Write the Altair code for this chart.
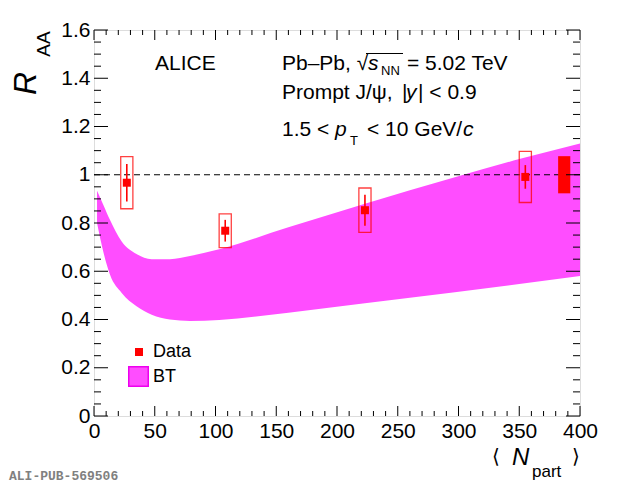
import altair as alt
import pandas as pd

# ---------------- data ----------------
npart = [27, 108, 223, 355]
raa = [0.967, 0.768, 0.853, 0.991]
stat_err = [0.078, 0.045, 0.064, 0.049]
syst_err = [0.108, 0.070, 0.092, 0.106]

glob_n = [382, 392]
glob_unc = 0.077

band_n = [2.5, 7.7, 13.2, 22.8, 35, 47.5, 62.5, 79, 103, 160, 223, 260, 297, 350, 400]
band_hi = [0.934, 0.875, 0.812, 0.723, 0.671, 0.650, 0.650, 0.663, 0.691, 0.782, 0.880, 0.936, 0.990, 1.065, 1.130]
band_lo = [0.800, 0.680, 0.585, 0.510, 0.455, 0.420, 0.400, 0.394, 0.398, 0.428, 0.467, 0.490, 0.513, 0.547, 0.580]

x_major = [0, 50, 100, 150, 200, 250, 300, 350, 400]
x_minor = [v for v in range(0, 401, 10) if v % 50 != 0]
y_major = [0, 0.2, 0.4, 0.6, 0.8, 1.0, 1.2, 1.4, 1.6]
y_minor = [round(0.05 * i, 2) for i in range(33) if i % 4 != 0]

W, H = 486, 386
FONT = "Liberation Sans"
RED = "#ff0000"
MAG = "#ff4dff"
BOX_HALF = 5  # half width of systematic boxes (Npart units)

xs = alt.Scale(domain=[0, 400], nice=False, zero=False)
ys = alt.Scale(domain=[0, 1.6], nice=False, zero=False)

pts = pd.DataFrame({"n": npart, "r": raa, "s": stat_err, "u": syst_err})
pts["slo"] = pts.r - pts.s
pts["shi"] = pts.r + pts.s
pts["ulo"] = pts.r - pts.u
pts["uhi"] = pts.r + pts.u
pts["bx1"] = pts.n - BOX_HALF
pts["bx2"] = pts.n + BOX_HALF
pts["series"] = "Data"

band = pd.DataFrame({"n": band_n, "lo": band_lo, "hi": band_hi, "model": "BT"})

x_axis = alt.Axis(values=x_major, format="d", labelFont=FONT, labelFontSize=21,
                  labelColor="black", labelPadding=4, domain=False, ticks=False,
                  grid=False, title=None, labelFlush=False, labelOverlap=False)
y_axis = alt.Axis(values=y_major, format="~g", labelFont=FONT, labelFontSize=21,
                  labelColor="black", labelPadding=4, domain=False, ticks=False,
                  grid=False, title=None, labelFlush=False, labelOverlap=False)

area = alt.Chart(band).mark_area(interpolate="monotone", opacity=1).encode(
    x=alt.X("n:Q", scale=xs, axis=x_axis),
    y=alt.Y("lo:Q", scale=ys, axis=y_axis),
    y2="hi:Q",
    fill=alt.Fill("model:N", scale=alt.Scale(domain=["BT"], range=[MAG]),
                  legend=alt.Legend(orient="none", legendX=34, legendY=336, title=None,
                                    labelFont=FONT, labelFontSize=18, labelColor="black",
                                    symbolType="square", symbolSize=380,
                                    symbolStrokeColor="#ee00ee", symbolStrokeWidth=1.5,
                                    symbolOpacity=1, labelOffset=4, padding=0)),
)

unity = alt.Chart(pd.DataFrame({"x": [0], "x2": [400], "y": [1.0]})).mark_rule(
    color="black", strokeDash=[6, 4], strokeWidth=1
).encode(x=alt.X("x:Q", scale=xs), x2="x2:Q", y=alt.Y("y:Q", scale=ys))

syst = alt.Chart(pts).mark_rect(fill=None, stroke=RED, strokeWidth=1.3, strokeOpacity=0.75).encode(
    x=alt.X("bx1:Q", scale=xs), x2="bx2:Q", y=alt.Y("ulo:Q", scale=ys), y2="uhi:Q")

stat = alt.Chart(pts).mark_rule(color=RED, strokeWidth=1.6).encode(
    x=alt.X("n:Q", scale=xs), y=alt.Y("slo:Q", scale=ys), y2="shi:Q")

marker = alt.Chart(pts).mark_point(filled=True, color=RED, size=64, opacity=1).encode(
    x=alt.X("n:Q", scale=xs), y=alt.Y("r:Q", scale=ys),
    shape=alt.Shape("series:N", scale=alt.Scale(domain=["Data"], range=["square"]),
                    legend=alt.Legend(orient="none", legendX=36, legendY=313, title=None,
                                      labelFont=FONT, labelFontSize=18, labelColor="black",
                                      symbolSize=64, symbolFillColor=RED, symbolStrokeWidth=0,
                                      symbolOpacity=1, labelOffset=5, padding=0)),
)

glob = alt.Chart(pd.DataFrame({"x1": [glob_n[0]], "x2": [glob_n[1]],
                               "y1": [1 - glob_unc], "y2": [1 + glob_unc]})).mark_rect(
    color=RED, opacity=1).encode(x=alt.X("x1:Q", scale=xs), x2="x2:Q",
                                  y=alt.Y("y1:Q", scale=ys), y2="y2:Q")

# inward ticks on all four sides
def yticks(vals, length):
    d = pd.DataFrame({"v": vals})
    left = alt.Chart(d).mark_rule(color="black", strokeWidth=1).encode(
        y=alt.Y("v:Q", scale=ys), x=alt.value(0), x2=alt.value(length))
    right = alt.Chart(d).mark_rule(color="black", strokeWidth=1).encode(
        y=alt.Y("v:Q", scale=ys), x=alt.value(W), x2=alt.value(W - length))
    return [left, right]

def xticks(vals, length):
    d = pd.DataFrame({"v": vals})
    bottom = alt.Chart(d).mark_rule(color="black", strokeWidth=1).encode(
        x=alt.X("v:Q", scale=xs), y=alt.value(H), y2=alt.value(H - length))
    top = alt.Chart(d).mark_rule(color="black", strokeWidth=1).encode(
        x=alt.X("v:Q", scale=xs), y=alt.value(0), y2=alt.value(length))
    return [bottom, top]

ticks = yticks(y_major, 14) + yticks(y_minor, 7) + xticks(x_major, 10) + xticks(x_minor, 5)

one = pd.DataFrame({"a": [0]})

def txt(s, x, y, size=21, style="normal", angle=0, font=FONT, color="black", weight="normal"):
    return alt.Chart(one).mark_text(
        text=s, fontSize=size, fontStyle=style, font=font, color=color, angle=angle,
        align="left", baseline="alphabetic", fontWeight=weight
    ).encode(x=alt.value(x), y=alt.value(y))

texts = [
    txt("ALICE", 61, 40),
    txt("Pb\u2013Pb, \u221a", 188, 40),
    txt("s", 274, 40, style="italic"),
    txt("NN", 287, 45, size=13),
    txt("= 5.02 TeV", 313, 40),
    txt("Prompt J/\u03c8,", 188, 68.7),
    txt("|", 308, 68.7),
    txt("y", 312, 68.7, style="italic"),
    txt("| < 0.9", 324, 68.7),
    txt("1.5 <", 188, 106.3),
    txt("p", 241, 106.3, style="italic"),
    txt("T", 256, 115, size=13),
    txt("< 10 GeV/", 273, 106.3),
    txt("c", 369, 106.3, style="italic"),
    # y title
    txt("R", -58, 65, size=32, style="italic", angle=270),
    txt("AA", -44, 26.7, size=19, angle=270),
    # x title
    txt("\u27e8", 398, 433, size=20, font="DejaVu Sans"),
    txt("N", 418, 435, size=24, style="italic"),
    txt("part", 438, 447, size=17),
    txt("\u27e9", 478, 433, size=20, font="DejaVu Sans"),
    txt("ALI-PUB-569506", -85, 450, size=13, font="Liberation Mono", color="#808080", weight="bold"),
]

overline = alt.Chart(one).mark_rule(color="black", strokeWidth=1).encode(
    x=alt.value(272), x2=alt.value(309), y=alt.value(23.5))

chart = alt.layer(area, unity, syst, stat, glob, marker, *ticks, overline, *texts).properties(
    width=W, height=H,
    padding={"left": 86, "top": 22, "right": 26, "bottom": 70},
    autosize=alt.AutoSizeParams(type="none"),
).configure_view(stroke="black", strokeWidth=1.2).configure(background="white")

chart.save("out.html", embed_options={"renderer": "svg", "actions": False})
